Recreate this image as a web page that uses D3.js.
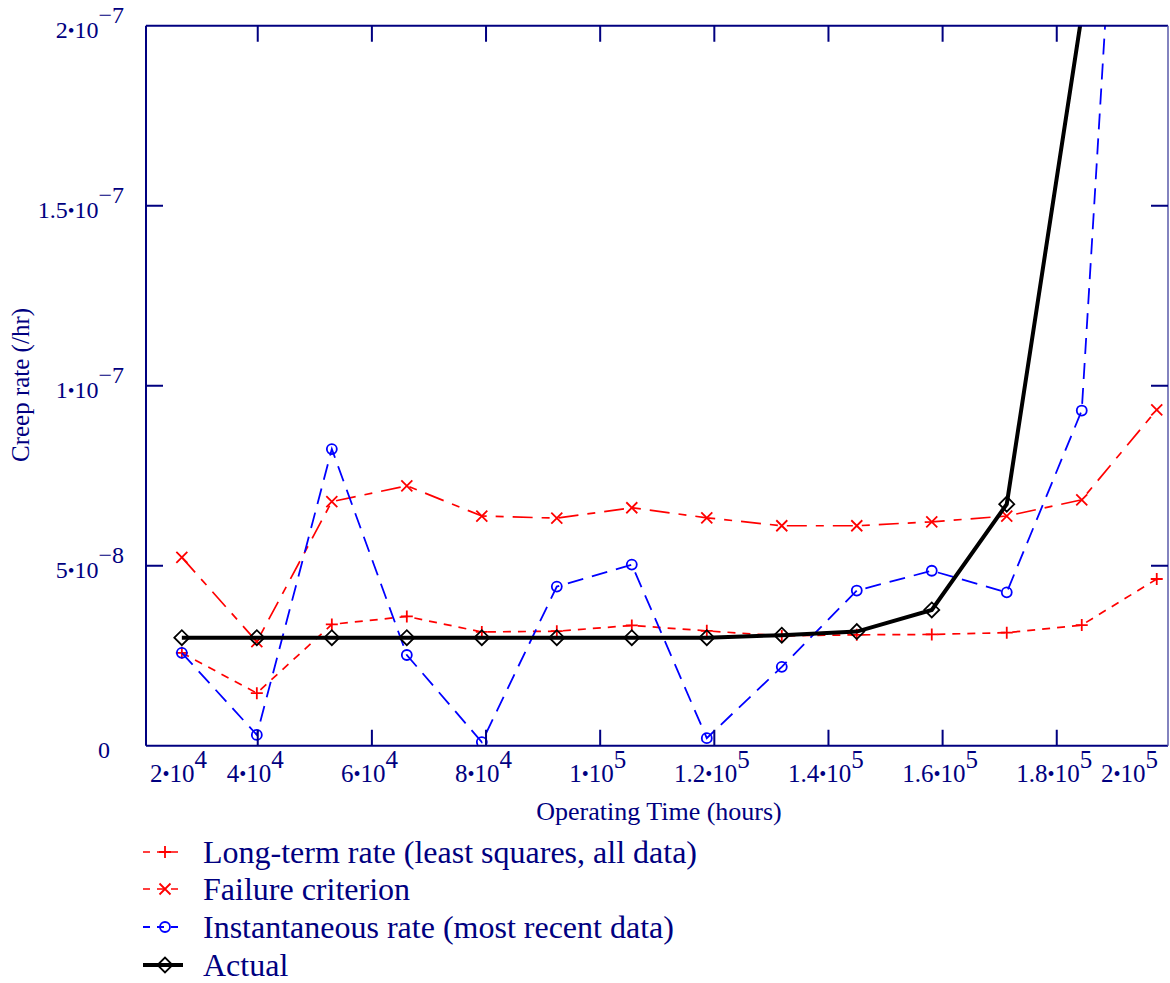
<!DOCTYPE html>
<html>
<head>
<meta charset="utf-8">
<title>Creep rate</title>
<style>
  body { margin: 0; background: #fff; }
  text { font-family: "Liberation Serif", "Times New Roman", serif; fill: #000080; }
</style>
</head>
<body>
<svg id="chart"></svg>
<script src="https://cdnjs.cloudflare.com/ajax/libs/d3/7.8.5/d3.min.js"></script>
<script>
// operating time (hours) at each evaluation
var hours = [26700, 39840, 52980, 66120, 79260, 92400, 105540, 118680, 131820, 144960, 158100, 171240, 184380, 197520];

// creep rates (/hr)
var longTerm = [2.58e-8, 1.46e-8, 3.37e-8, 3.59e-8, 3.16e-8, 3.18e-8, 3.34e-8, 3.19e-8, 3.05e-8, 3.08e-8, 3.09e-8, 3.14e-8, 3.35e-8, 4.63e-8];
var failure = [5.23e-8, 2.89e-8, 6.78e-8, 7.22e-8, 6.38e-8, 6.32e-8, 6.61e-8, 6.33e-8, 6.11e-8, 6.11e-8, 6.22e-8, 6.38e-8, 6.83e-8, 9.33e-8];
var instant = [2.58e-8, 0.30e-8, 8.24e-8, 2.52e-8, 0.10e-8, 4.42e-8, 5.03e-8, 0.21e-8, 2.19e-8, 4.31e-8, 4.86e-8, 4.26e-8, 9.31e-8, 43.7e-8];
var actual = [3.0e-8, 3.0e-8, 3.0e-8, 3.0e-8, 3.0e-8, 3.0e-8, 3.0e-8, 3.0e-8, 3.07e-8, 3.17e-8, 3.77e-8, 6.71e-8, 20.3e-8, 40e-8];

var xTicks = [2e4, 4e4, 6e4, 8e4, 1e5, 1.2e5, 1.4e5, 1.6e5, 1.8e5, 2e5];
var xTickLabels = [["2", "4"], ["4", "4"], ["6", "4"], ["8", "4"], ["1", "5"], ["1.2", "5"], ["1.4", "5"], ["1.6", "5"], ["1.8", "5"], ["2", "5"]];
var yTicks = [0, 5e-8, 1e-7, 1.5e-7, 2e-7];
var yTickLabels = [["0", ""], ["5", "−8"], ["1", "−7"], ["1.5", "−7"], ["2", "−7"]];

var legendNames = ["Long-term rate (least squares, all data)", "Failure criterion", "Instantaneous rate (most recent data)", "Actual"];

var W = 1170, H = 983;
var pLeft = 146, pRight = 1168, pTop = 25.7, pBottom = 745.7;
var navy = "#000080";

var svg = d3.select("#chart").attr("width", W).attr("height", H);

var x = d3.scaleLinear().domain([2e4, 2e5]).range([143.6, 1170.9]);
var y = d3.scaleLinear().domain([0, 2e-7]).range([pBottom, pTop]);

svg.append("defs").append("clipPath").attr("id", "clip")
  .append("rect").attr("x", pLeft).attr("y", pTop).attr("width", pRight - pLeft).attr("height", pBottom - pTop);

// series settings
var series = [
  {vals: longTerm, color: "#ff0000", width: 1.7, dash: "8,7", marker: "plus"},
  {vals: failure, color: "#ff0000", width: 1.7, dash: "20,9,8,9", marker: "cross"},
  {vals: instant, color: "#0000ff", width: 1.8, dash: "16,9", marker: "circle"},
  {vals: actual, color: "#000000", width: 4, dash: null, marker: "diamond"}
];

function drawMarker(g, type, color) {
  if (type == "plus") {
    g.append("path").attr("d", "M-6,0H6M0,-6V6").attr("stroke", color).attr("stroke-width", 1.8).attr("fill", "none");
  } else if (type == "cross") {
    g.append("path").attr("d", "M-5.5,-5.5L5.5,5.5M-5.5,5.5L5.5,-5.5").attr("stroke", color).attr("stroke-width", 1.8).attr("fill", "none");
  } else if (type == "circle") {
    g.append("circle").attr("r", 5).attr("stroke", color).attr("stroke-width", 1.8).attr("fill", "none");
  } else {
    g.append("path").attr("d", "M-7.5,0L0,-7.5L7.5,0L0,7.5Z").attr("stroke", color).attr("stroke-width", 1.8).attr("fill", "none");
  }
}

var line = d3.line().x(function(d) { return x(d[0]); }).y(function(d) { return y(d[1]); });

var plot = svg.append("g").attr("clip-path", "url(#clip)");

series.forEach(function(s) {
  var pts = hours.map(function(h, i) { return [h, s.vals[i]]; });
  plot.append("path")
    .datum(pts)
    .attr("d", line)
    .attr("fill", "none")
    .attr("stroke", s.color)
    .attr("stroke-width", s.width)
    .attr("stroke-dasharray", s.dash);
  plot.selectAll(null).data(pts).enter().append("g")
    .attr("transform", function(d) { return "translate(" + x(d[0]) + "," + y(d[1]) + ")"; })
    .each(function() { drawMarker(d3.select(this), s.marker, s.color); });
});

// frame
svg.append("line").attr("x1", pLeft).attr("x2", pLeft).attr("y1", pTop).attr("y2", pBottom).attr("stroke", navy).attr("stroke-width", 2);
svg.append("line").attr("x1", pLeft).attr("x2", pRight).attr("y1", pBottom).attr("y2", pBottom).attr("stroke", navy).attr("stroke-width", 2);
svg.append("line").attr("x1", pLeft).attr("x2", pRight).attr("y1", pTop).attr("y2", pTop).attr("stroke", navy).attr("stroke-width", 2);
svg.append("line").attr("x1", pRight).attr("x2", pRight).attr("y1", pTop).attr("y2", pBottom).attr("stroke", "#5a5aaa").attr("stroke-width", 1.5);

// x ticks (inner ones only, top and bottom)
var innerX = xTicks.slice(1, -1);
svg.selectAll(".xt").data(innerX).enter().append("path")
  .attr("d", function(d) { var px = x(d); return "M" + px + "," + pBottom + "V" + (pBottom - 16) + "M" + px + "," + pTop + "V" + (pTop + 16); })
  .attr("stroke", navy).attr("stroke-width", 2);

var innerY = yTicks.slice(1, -1);
svg.selectAll(".yt").data(innerY).enter().append("path")
  .attr("d", function(d) { var py = y(d); return "M" + pLeft + "," + py + "H" + (pLeft + 17) + "M" + pRight + "," + py + "H" + (pRight - 17); })
  .attr("stroke", navy).attr("stroke-width", 2);

// mantissa, small bullet, "10", raised exponent
function sciLabel(tx, mant, expo, size, rise) {
  tx.append("tspan").text(mant);
  tx.append("tspan").style("font-size", (size * 0.8) + "px").attr("dy", -1).text("•");
  tx.append("tspan").attr("dy", 1).text("10");
  tx.append("tspan").attr("dy", -rise).text(expo);
}

// x tick labels
xTicks.forEach(function(t, i) {
  var anchor = "middle", px = x(t) - 2.5;
  if (i == 0) { anchor = "start"; px = pLeft + 4; }
  if (i == xTicks.length - 1) { anchor = "end"; px = pRight - 10; }
  var tx = svg.append("text").attr("x", px).attr("y", 782).attr("text-anchor", anchor).style("font-size", "25px");
  sciLabel(tx, xTickLabels[i][0], xTickLabels[i][1], 25, 14);
});

// y tick labels
yTicks.forEach(function(t, i) {
  var lab = yTickLabels[i];
  var tx = svg.append("text").attr("text-anchor", "end").style("font-size", "24px");
  if (lab[1] == "") {
    tx.attr("x", 110).attr("y", y(t) + 12).text(lab[0]);
  } else {
    tx.attr("x", 124).attr("y", y(t) + 12);
    sciLabel(tx, lab[0], lab[1], 24, 15);
  }
});

// axis titles
svg.append("text").attr("x", 659).attr("y", 820).attr("text-anchor", "middle").style("font-size", "26px").text("Operating Time (hours)");
svg.append("text").attr("transform", "translate(29,385) rotate(-90)").attr("text-anchor", "middle").style("font-size", "25px").text("Creep rate (/hr)");

// legend
var legendY = [852, 889, 927, 965];
series.forEach(function(s, i) {
  var g = svg.append("g").attr("transform", "translate(0," + legendY[i] + ")");
  g.append("line").attr("x1", 143).attr("x2", 183).attr("y1", 0).attr("y2", 0)
    .attr("stroke", s.color).attr("stroke-width", s.width).attr("stroke-dasharray", s.dash ? "7,7" : null);
  var m = g.append("g").attr("transform", "translate(165,0)");
  drawMarker(m, s.marker, s.color);
  g.append("text").attr("x", 203).attr("y", 11).style("font-size", "32px").text(legendNames[i]);
});
</script>
</body>
</html>
